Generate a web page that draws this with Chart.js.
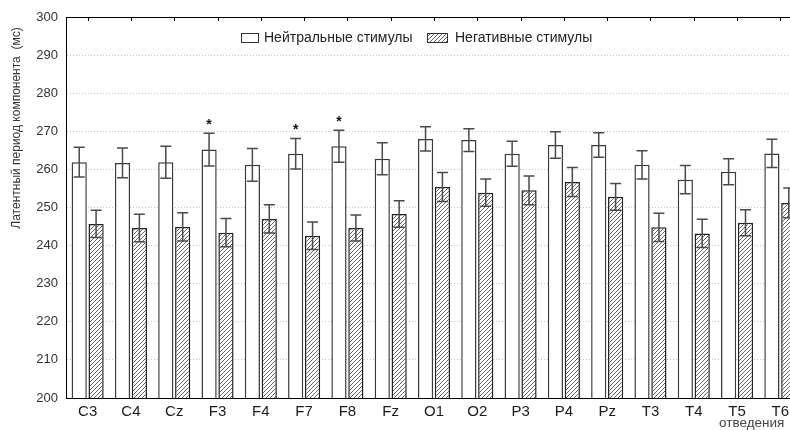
<!DOCTYPE html>
<html>
<head>
<meta charset="utf-8">
<script src="https://cdn.jsdelivr.net/npm/chart.js@4"></script>
<style>
  html, body { margin: 0; padding: 0; background: #fff; overflow: hidden; }
  #wrap { width: 810px; height: 430px; }
</style>
</head>
<body>
<div id="wrap"><canvas id="latencyChart" width="810" height="430"></canvas></div>
<script>
const leads = ["C3", "C4", "Cz", "F3", "F4", "F7", "F8", "Fz", "O1", "O2", "P3", "P4", "Pz", "T3", "T4", "T5", "T6"];
const neutral = [261.9, 261.7, 261.9, 265.2, 261.2, 264.1, 266.1, 262.8, 268.0, 267.7, 264.1, 266.4, 266.4, 261.2, 257.3, 259.4, 264.2];
const neutralErr = [3.9, 3.9, 4.2, 4.3, 4.3, 4.0, 4.2, 4.2, 3.2, 3.0, 3.3, 3.5, 3.2, 3.7, 3.7, 3.4, 3.7];
const negative = [245.7, 244.6, 244.9, 243.4, 247.0, 242.6, 244.6, 248.3, 255.4, 253.9, 254.5, 256.7, 252.8, 244.8, 243.2, 246.0, 251.2];
const negativeErr = [3.6, 3.6, 3.7, 3.7, 3.7, 3.6, 3.4, 3.5, 3.8, 3.6, 3.8, 3.8, 3.5, 3.7, 3.7, 3.4, 3.9];
const significant = ["F3", "F7", "F8"];
const seriesNames = ["Нейтральные стимулы", "Негативные стимулы"];

const FONT = "'Liberation Sans', Arial, sans-serif";

// diagonal hatch for the negative bars
function makeHatch() {
  const c = document.createElement("canvas");
  c.width = 4;
  c.height = 4;
  const g = c.getContext("2d");
  g.fillStyle = "#fff";
  g.fillRect(0, 0, 4, 4);
  g.strokeStyle = "#666";
  g.lineWidth = 1;
  g.beginPath();
  g.moveTo(0, 4); g.lineTo(4, 0);
  g.moveTo(-1, 1); g.lineTo(1, -1);
  g.moveTo(3, 5); g.lineTo(5, 3);
  g.stroke();
  return g.createPattern(c, "repeat");
}
const hatch = makeHatch();

const errors = [neutralErr, negativeErr];

const extras = {
  id: "extras",
  afterDatasetsDraw(chart) {
    const ctx = chart.ctx;
    const y = chart.scales.y;
    const area = chart.chartArea;

    // error bars
    ctx.save();
    ctx.strokeStyle = "#4a4a4a";
    ctx.lineWidth = 1.5;
    chart.data.datasets.forEach((ds, di) => {
      chart.getDatasetMeta(di).data.forEach((bar, i) => {
        const v = ds.data[i];
        const e = errors[di][i];
        const top = y.getPixelForValue(v + e);
        const bot = y.getPixelForValue(v - e);
        ctx.beginPath();
        ctx.moveTo(bar.x, top); ctx.lineTo(bar.x, bot);
        ctx.moveTo(bar.x - 5.5, top); ctx.lineTo(bar.x + 5.5, top);
        ctx.moveTo(bar.x - 5.5, bot); ctx.lineTo(bar.x + 5.5, bot);
        ctx.stroke();
      });
    });
    ctx.restore();

    // significance stars
    ctx.save();
    ctx.fillStyle = "#111";
    ctx.font = "bold 14px " + FONT;
    ctx.textAlign = "center";
    ctx.textBaseline = "middle";
    const meta0 = chart.getDatasetMeta(0);
    significant.forEach((lead) => {
      const i = leads.indexOf(lead);
      const bar = meta0.data[i];
      const top = y.getPixelForValue(neutral[i] + neutralErr[i]);
      ctx.fillText("*", bar.x, top - 8);
    });
    ctx.restore();

    // top frame line with inward ticks
    ctx.save();
    ctx.strokeStyle = "#000";
    ctx.lineWidth = 1;
    ctx.beginPath();
    ctx.moveTo(area.left, area.top + 0.5);
    ctx.lineTo(area.right, area.top + 0.5);
    chart.scales.x.ticks.forEach((t, i) => {
      const px = Math.round(chart.scales.x.getPixelForTick(i)) + 0.5;
      ctx.moveTo(px, area.top);
      ctx.lineTo(px, area.top + 4);
    });
    ctx.stroke();
    ctx.restore();
  },
  afterDraw(chart) {
    const ctx = chart.ctx;

    // legend
    ctx.save();
    ctx.font = "14px " + FONT;
    ctx.textBaseline = "middle";
    ctx.strokeStyle = "#333";
    ctx.lineWidth = 1;
    ctx.fillStyle = "#fff";
    ctx.fillRect(241.5, 33.5, 17, 9);
    ctx.strokeRect(241.5, 33.5, 17, 9);
    ctx.fillStyle = hatch;
    ctx.fillRect(427.5, 33.5, 20, 9);
    ctx.strokeRect(427.5, 33.5, 20, 9);
    ctx.fillStyle = "#222";
    ctx.fillText(seriesNames[0], 264, 38.5);
    ctx.fillText(seriesNames[1], 455, 38.5);
    ctx.restore();

    // axis titles
    ctx.save();
    ctx.fillStyle = "#333";
    ctx.font = "12px " + FONT;
    ctx.translate(17, 128);
    ctx.rotate(-Math.PI / 2);
    ctx.textAlign = "center";
    ctx.textBaseline = "middle";
    ctx.fillText("Латентный период компонента  (мс)", 0, 0);
    ctx.restore();

    ctx.save();
    ctx.fillStyle = "#444";
    ctx.font = "13.5px " + FONT;
    ctx.textBaseline = "alphabetic";
    ctx.fillText("отведения", 719, 427);
    ctx.restore();
  },
};

new Chart(document.getElementById("latencyChart"), {
  type: "bar",
  data: {
    labels: leads,
    datasets: [
      {
        label: seriesNames[0],
        data: neutral,
        backgroundColor: "#fff",
        borderColor: "#3a3a3a",
        borderWidth: 1.5,
        categoryPercentage: 0.78,
        barPercentage: 0.9,
      },
      {
        label: seriesNames[1],
        data: negative,
        backgroundColor: hatch,
        borderColor: "#222",
        borderWidth: 1.5,
        categoryPercentage: 0.78,
        barPercentage: 0.9,
      },
    ],
  },
  options: {
    responsive: false,
    animation: false,
    layout: { padding: { top: 17, right: 8, left: 0, bottom: 0 } },
    plugins: {
      legend: { display: false },
      tooltip: { enabled: false },
    },
    scales: {
      x: {
        grid: { display: false, drawTicks: false },
        border: { color: "#000", width: 1 },
        ticks: { color: "#1a1a1a", font: { family: FONT, size: 15 }, padding: 5 },
        afterFit: (s) => { s.height = 32; },
      },
      y: {
        min: 200,
        max: 300,
        ticks: { stepSize: 10, color: "#333", font: { family: FONT, size: 13 }, padding: 8 },
        grid: {
          drawTicks: false,
          color: (c) => (c.tick && (c.tick.value === 200 || c.tick.value === 300) ? "rgba(0,0,0,0)" : "#c4c4c4"),
          lineWidth: 1,
        },
        border: { color: "#000", width: 1, dash: [1, 2] },
        afterFit: (s) => { s.width = 66; },
      },
    },
  },
  plugins: [extras],
});
</script>
</body>
</html>
